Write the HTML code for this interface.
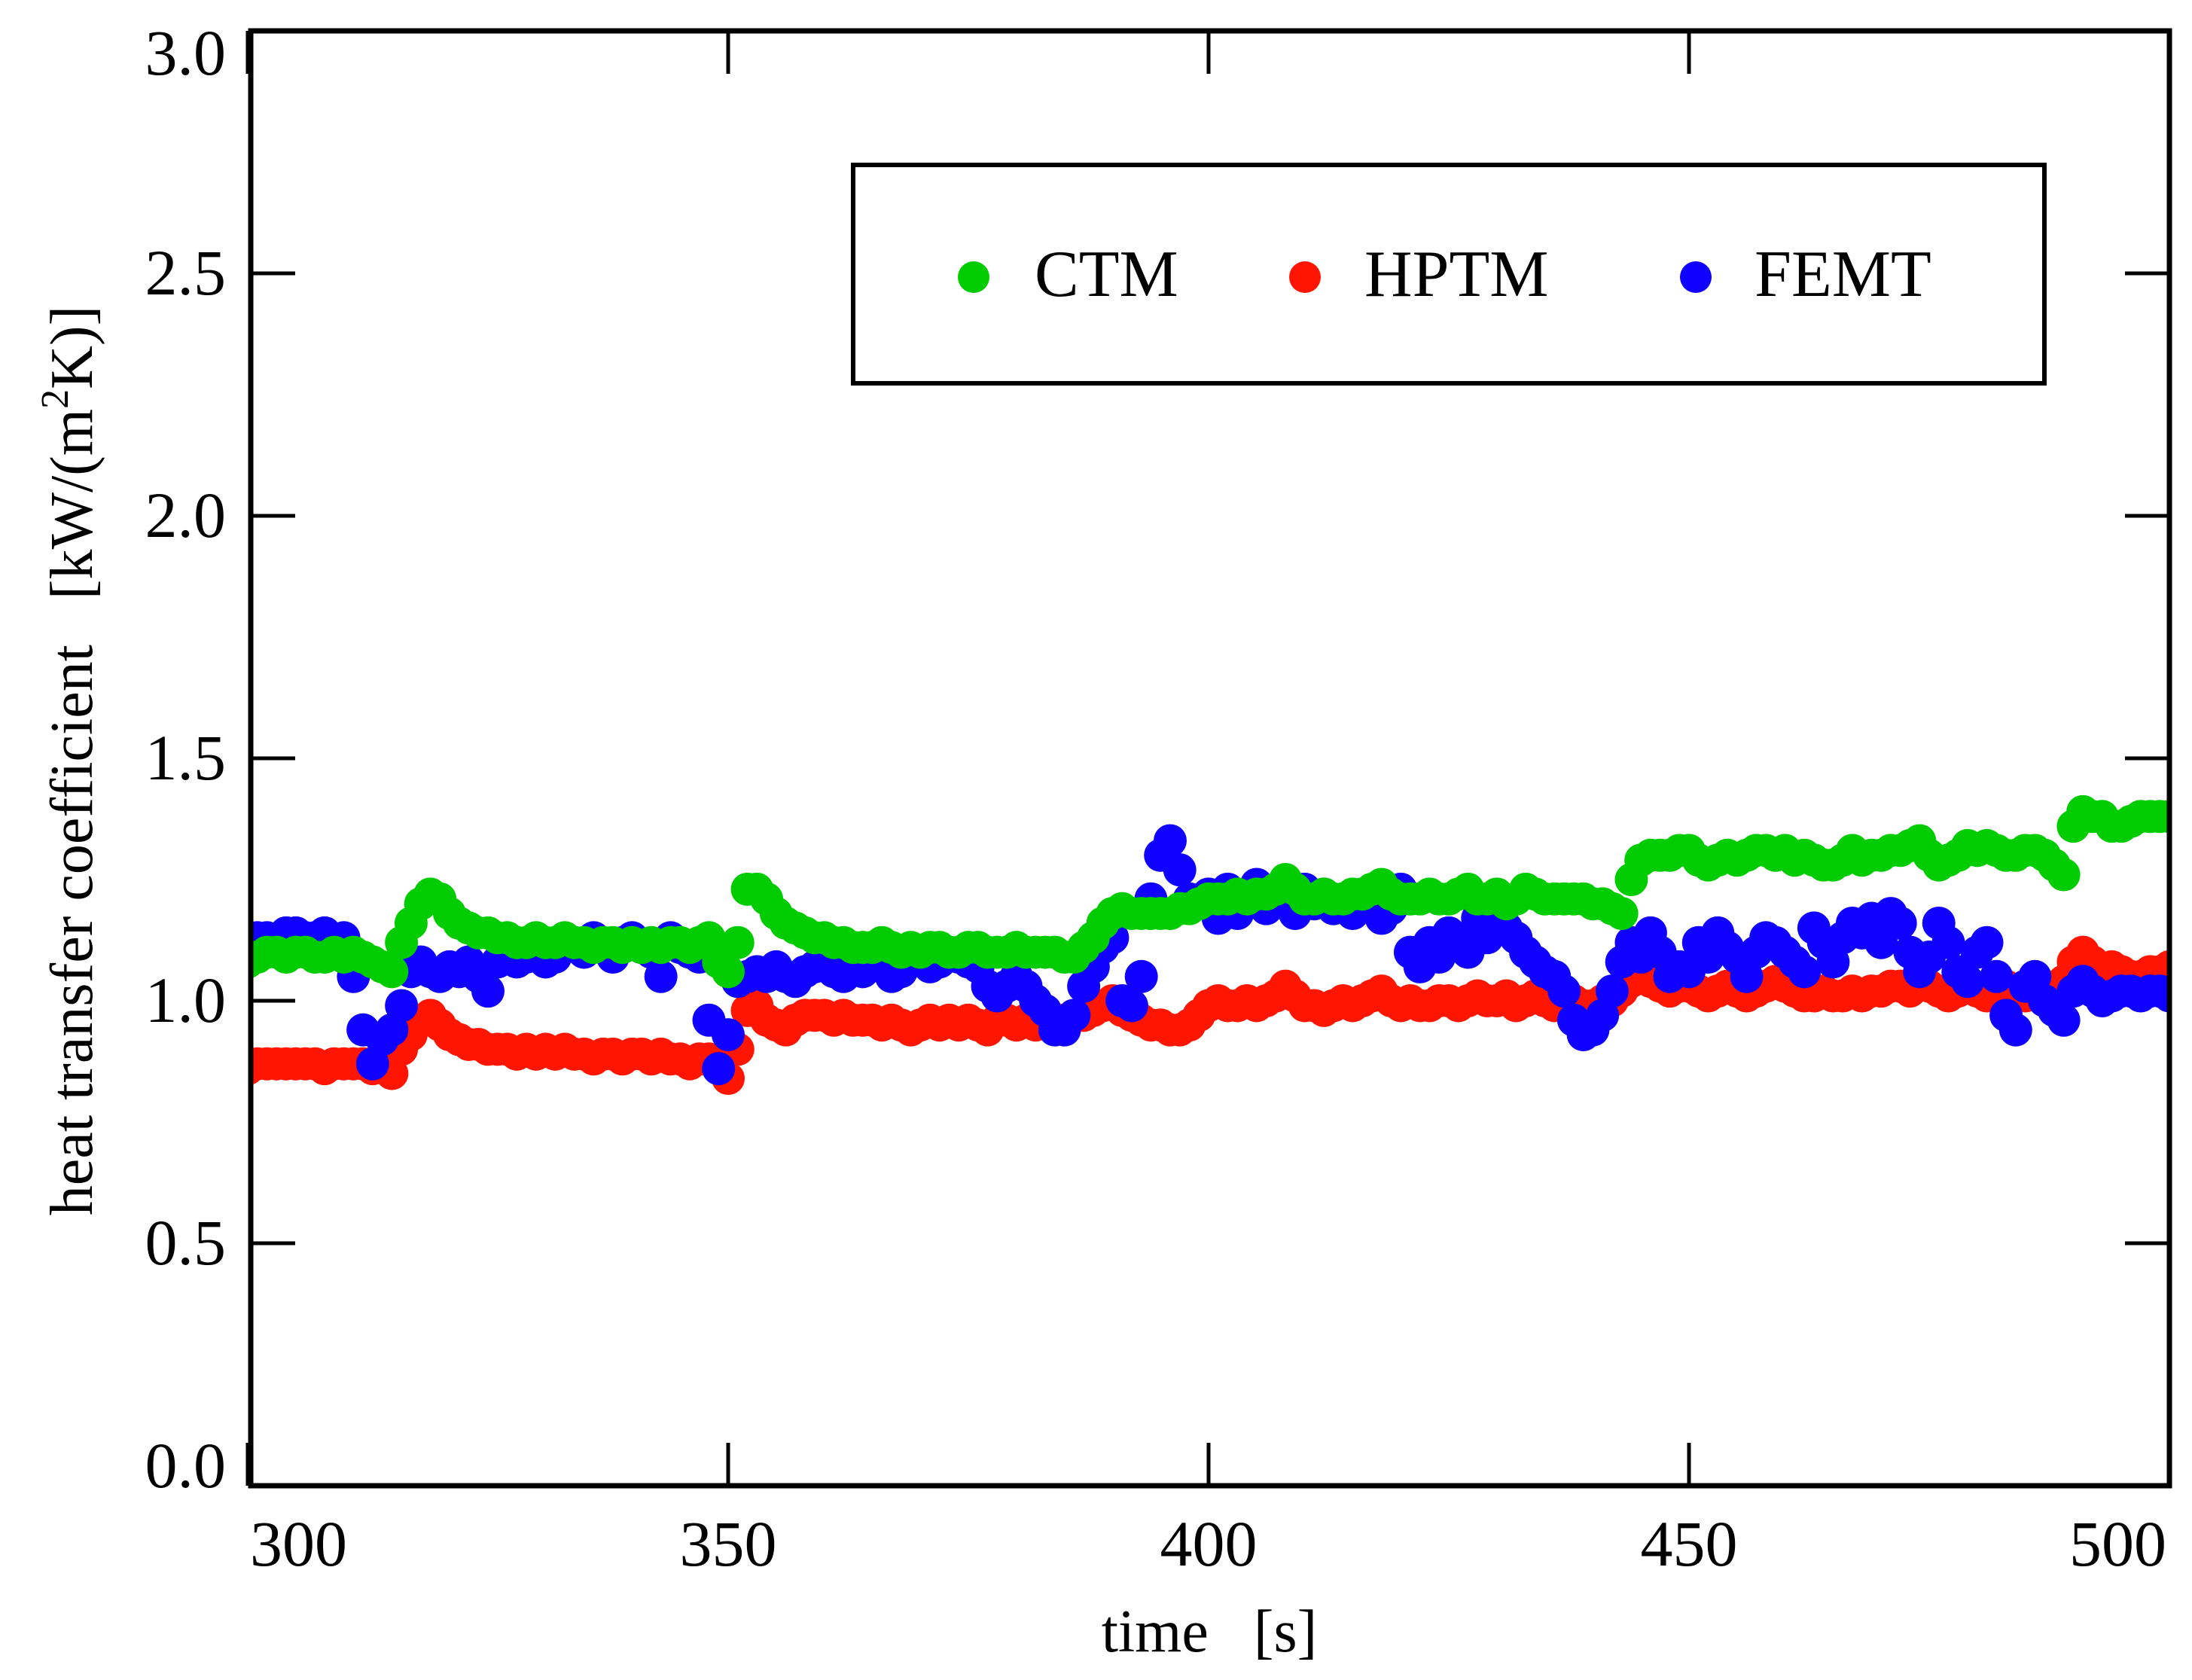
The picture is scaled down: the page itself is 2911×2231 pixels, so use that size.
<!DOCTYPE html>
<html><head><meta charset="utf-8">
<style>
html,body{margin:0;padding:0;background:#fff;}
svg{display:block;}
text{font-family:"Liberation Serif",serif;fill:#000;}
</style></head>
<body>
<svg id="chart" width="2911" height="2231" viewBox="0 0 2911 2231" xmlns="http://www.w3.org/2000/svg">
<defs><clipPath id="plotclip"><rect x="336" y="44" width="2542" height="1926"/></clipPath></defs>
<g id="axes"></g>
<g id="marks" clip-path="url(#plotclip)"></g>
<rect x="333" y="41" width="2548" height="1932" fill="none" stroke="#000" stroke-width="7"/>
<g>
<rect x="1133" y="219" width="1582" height="290" fill="#fff" stroke="#000" stroke-width="6"/>
<circle cx="1293" cy="368" r="21" fill="#00cc00"/>
<text x="1374" y="393" font-size="88">CTM</text>
<circle cx="1733" cy="368" r="21" fill="#ff1500"/>
<text x="1812" y="393" font-size="88">HPTM</text>
<circle cx="2252" cy="368" r="21" fill="#1000ff"/>
<text x="2330" y="393" font-size="88">FEMT</text>
</g>
<text x="1606" y="2193" font-size="80" text-anchor="middle" xml:space="preserve">time   [s]</text>
<text transform="translate(122,1010) rotate(-90)" font-size="80" text-anchor="middle" xml:space="preserve">heat transfer coefficient   [kW/(m<tspan dy="-32" font-size="52">2</tspan><tspan dy="32">K)]</tspan></text>
</svg>
<script>
const xTicks = [300, 350, 400, 450, 500];
const yTicks = [0.0, 0.5, 1.0, 1.5, 2.0, 2.5, 3.0];
const yTickLabels = ["0.0","0.5","1.0","1.5","2.0","2.5","3.0"];
const tStart = 300;
const ctm = [
1.08,1.09,1.10,1.10,1.09,1.10,1.10,1.09,1.09,1.10,
1.09,1.10,1.09,1.08,1.07,1.06,1.12,1.16,1.20,1.22,
1.21,1.18,1.16,1.15,1.14,1.14,1.13,1.13,1.12,1.12,
1.13,1.12,1.12,1.13,1.12,1.12,1.11,1.12,1.12,1.11,
1.12,1.11,1.12,1.11,1.12,1.12,1.11,1.12,1.13,1.08,
1.06,1.12,1.23,1.23,1.21,1.18,1.16,1.15,1.14,1.13,
1.13,1.12,1.12,1.11,1.11,1.11,1.12,1.11,1.10,1.11,
1.10,1.11,1.11,1.10,1.10,1.11,1.11,1.10,1.10,1.10,
1.11,1.10,1.10,1.10,1.10,1.09,1.09,1.11,1.13,1.16,
1.18,1.19,1.18,1.18,1.18,1.18,1.18,1.19,1.19,1.20,
1.21,1.21,1.21,1.22,1.21,1.22,1.22,1.23,1.25,1.23,
1.21,1.21,1.22,1.21,1.21,1.22,1.22,1.23,1.24,1.22,
1.21,1.21,1.21,1.22,1.21,1.21,1.22,1.23,1.21,1.21,
1.22,1.20,1.21,1.23,1.22,1.21,1.21,1.21,1.21,1.21,
1.20,1.20,1.19,1.18,1.25,1.29,1.30,1.30,1.30,1.31,
1.31,1.29,1.28,1.29,1.30,1.29,1.30,1.31,1.31,1.30,
1.31,1.29,1.30,1.29,1.28,1.28,1.29,1.31,1.29,1.30,
1.30,1.31,1.31,1.32,1.33,1.30,1.28,1.29,1.30,1.32,
1.31,1.32,1.31,1.30,1.30,1.31,1.31,1.30,1.28,1.26,
1.36,1.39,1.38,1.38,1.36,1.36,1.37,1.38,1.38,1.38,1.38];
const hptm = [
0.86,0.87,0.87,0.87,0.87,0.87,0.87,0.87,0.86,0.87,
0.87,0.87,0.87,0.86,0.87,0.85,0.90,0.93,0.96,0.97,
0.95,0.93,0.92,0.91,0.91,0.90,0.90,0.90,0.89,0.90,
0.89,0.90,0.89,0.90,0.89,0.89,0.88,0.89,0.89,0.88,
0.89,0.89,0.88,0.89,0.88,0.88,0.87,0.88,0.88,0.87,
0.84,0.90,0.98,0.99,0.96,0.95,0.94,0.96,0.97,0.97,
0.97,0.96,0.97,0.96,0.96,0.96,0.95,0.96,0.95,0.94,
0.95,0.96,0.95,0.96,0.95,0.96,0.95,0.94,0.96,0.96,
0.95,0.96,0.95,0.96,0.95,0.96,0.97,0.97,0.98,0.99,
1.00,0.98,0.97,0.96,0.95,0.95,0.94,0.94,0.95,0.97,
0.99,1.00,0.99,0.99,1.00,0.99,1.00,1.01,1.03,1.01,
0.99,0.99,0.98,0.99,1.00,0.99,1.00,1.01,1.02,1.00,
0.99,1.00,0.99,0.99,1.00,1.00,0.99,1.00,1.01,1.00,
1.00,1.01,0.99,1.00,1.01,1.00,0.99,1.00,1.00,0.99,
0.99,1.00,1.00,1.02,1.04,1.05,1.04,1.03,1.02,1.03,
1.03,1.02,1.01,1.02,1.03,1.02,1.01,1.02,1.03,1.04,
1.03,1.02,1.01,1.01,1.02,1.01,1.01,1.02,1.01,1.02,
1.02,1.03,1.03,1.02,1.04,1.03,1.02,1.01,1.02,1.03,
1.02,1.01,1.02,1.03,1.02,1.01,1.02,1.03,1.02,1.04,
1.08,1.10,1.08,1.06,1.07,1.06,1.05,1.05,1.06,1.06,1.07];
const femt = [
1.10,1.13,1.13,1.12,1.14,1.14,1.13,1.13,1.14,1.12,
1.13,1.05,0.94,0.87,0.92,0.94,0.99,1.06,1.08,1.06,
1.05,1.07,1.06,1.08,1.05,1.02,1.08,1.10,1.08,1.09,
1.10,1.08,1.09,1.11,1.12,1.10,1.13,1.11,1.09,1.12,
1.13,1.11,1.10,1.05,1.13,1.11,1.10,1.09,0.96,0.86,
0.93,1.04,1.05,1.06,1.05,1.07,1.05,1.04,1.06,1.07,
1.08,1.06,1.05,1.07,1.06,1.08,1.07,1.05,1.06,1.08,
1.09,1.07,1.08,1.10,1.09,1.08,1.07,1.03,1.01,1.03,
1.05,1.03,1.00,0.98,0.94,0.94,0.97,1.03,1.07,1.11,
1.13,1.00,0.99,1.05,1.21,1.30,1.33,1.27,1.21,1.20,
1.22,1.17,1.23,1.18,1.21,1.24,1.19,1.22,1.20,1.18,
1.23,1.20,1.22,1.19,1.21,1.18,1.22,1.20,1.17,1.19,
1.23,1.10,1.07,1.12,1.09,1.14,1.12,1.10,1.17,1.13,
1.18,1.15,1.13,1.10,1.08,1.06,1.05,1.02,0.96,0.93,
0.94,0.97,1.02,1.08,1.12,1.09,1.14,1.10,1.05,1.07,
1.06,1.12,1.09,1.14,1.11,1.09,1.05,1.10,1.13,1.12,
1.10,1.08,1.06,1.15,1.12,1.08,1.13,1.16,1.14,1.17,
1.12,1.18,1.16,1.10,1.06,1.09,1.16,1.12,1.06,1.04,
1.10,1.12,1.05,0.97,0.94,1.03,1.05,1.00,0.98,0.96,
1.02,1.04,1.02,1.00,1.01,1.02,1.02,1.01,1.02,1.02,1.01];

const NS = "http://www.w3.org/2000/svg";
function xs(t){ return 967 + (t - 350) * 12.76; }
function ys(v){ return 1973 - v * 644; }

const axes = document.getElementById('axes');
const marks = document.getElementById('marks');

xTicks.forEach((t, i) => {
  const x = xs(t);
  const b = document.createElementNS(NS, 'line');
  b.setAttribute('x1', x); b.setAttribute('x2', x);
  b.setAttribute('y1', 1973); b.setAttribute('y2', 1916);
  b.setAttribute('stroke', '#000'); b.setAttribute('stroke-width', 5);
  
  
  axes.appendChild(b);
  const tp = document.createElementNS(NS, 'line');
  tp.setAttribute('x1', x); tp.setAttribute('x2', x);
  tp.setAttribute('y1', 41); tp.setAttribute('y2', 98);
  tp.setAttribute('stroke', '#000'); tp.setAttribute('stroke-width', 5);
  
  
  axes.appendChild(tp);
  const lb = document.createElementNS(NS, 'text');
  let anchor = 'middle', lx = x;
  if (i === 0) { anchor = 'start'; lx = 332; }
  if (i === xTicks.length - 1) { anchor = 'end'; lx = 2877; }
  lb.setAttribute('x', lx); lb.setAttribute('y', 2079);
  lb.setAttribute('font-size', 86); lb.setAttribute('text-anchor', anchor);
  lb.textContent = String(t);
  
  
  axes.appendChild(lb);
});

yTicks.forEach((v, i) => {
  const y = ys(v);
  const l = document.createElementNS(NS, 'line');
  l.setAttribute('x1', 333); l.setAttribute('x2', 392);
  l.setAttribute('y1', y); l.setAttribute('y2', y);
  l.setAttribute('stroke', '#000'); l.setAttribute('stroke-width', 5);
  
  
  axes.appendChild(l);
  const r = document.createElementNS(NS, 'line');
  r.setAttribute('x1', 2822); r.setAttribute('x2', 2881);
  r.setAttribute('y1', y); r.setAttribute('y2', y);
  r.setAttribute('stroke', '#000'); r.setAttribute('stroke-width', 5);
  
  
  axes.appendChild(r);
  let ly = y + 28;
  if (i === 0) ly = y + 2;
  if (i === yTicks.length - 1) ly = y + 58;
  const lb = document.createElementNS(NS, 'text');
  lb.setAttribute('x', 300); lb.setAttribute('y', ly);
  lb.setAttribute('font-size', 86); lb.setAttribute('text-anchor', 'end');
  lb.textContent = yTickLabels[i];
  
  
  axes.appendChild(lb);
});

function drawSeries(arr, color, name){
  const g = document.createElementNS(NS, 'g');
  
  
  arr.forEach((v, i) => {
    const c = document.createElementNS(NS, 'circle');
    c.setAttribute('cx', xs(tStart + i));
    c.setAttribute('cy', ys(v));
    c.setAttribute('r', 22);
    c.setAttribute('fill', color);
    
    
    g.appendChild(c);
  });
  marks.appendChild(g);
}
drawSeries(hptm, '#ff1500', 'hptm');
drawSeries(femt, '#1000ff', 'femt');
drawSeries(ctm, '#00cc00', 'ctm');
</script>
</body></html>
